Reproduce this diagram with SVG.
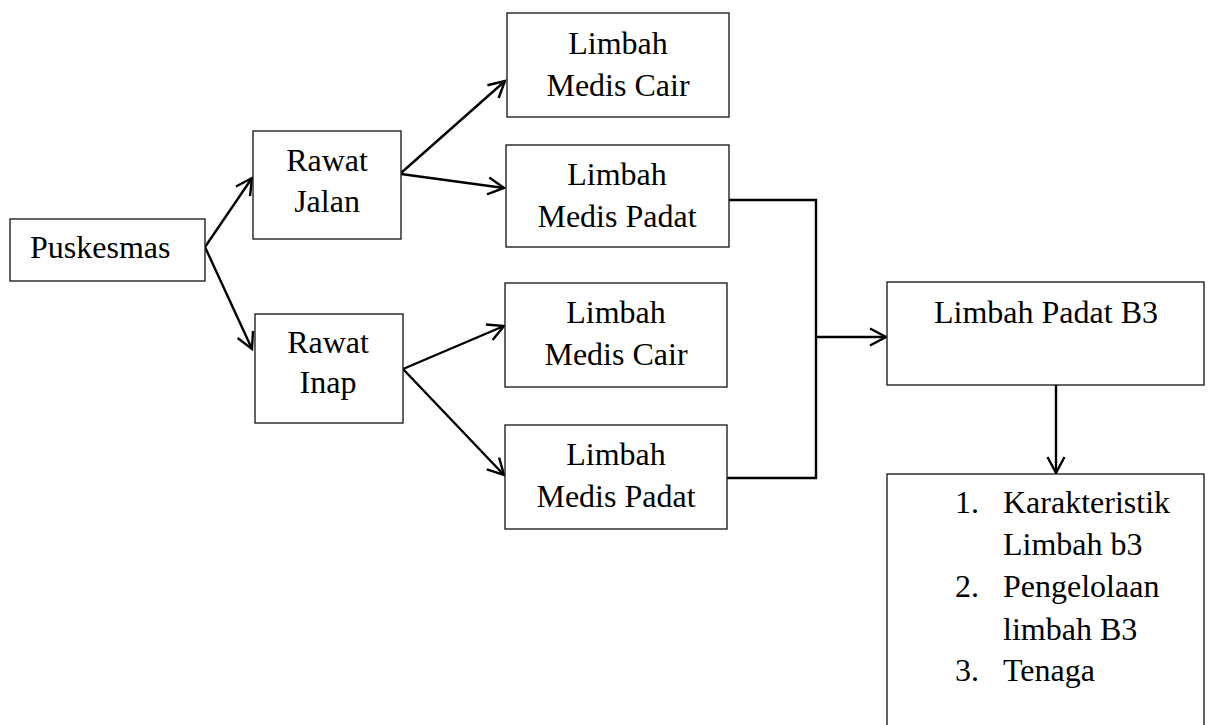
<svg xmlns="http://www.w3.org/2000/svg" width="1211" height="725" viewBox="0 0 1211 725">
<style>
.box{fill:#fff;stroke:#222;stroke-width:1.4}
.t{font-family:"Liberation Serif","Times New Roman",serif;font-size:32px;fill:#000}
.c{text-anchor:middle}
.ln{fill:none;stroke:#000;stroke-width:2.4}
</style>
<defs>
<marker id="ah" markerUnits="userSpaceOnUse" markerWidth="30" markerHeight="30" refX="0" refY="0" viewBox="-20 -15 30 30" orient="auto" overflow="visible">
<path d="M-16,-8.5 L0,0 L-16,8.5" fill="none" stroke="#000" stroke-width="2.4"/>
</marker>
</defs>
<rect width="1211" height="725" fill="#fff"/>
<g id="connectors">
<line class="ln" x1="205" y1="247" x2="252" y2="178" marker-end="url(#ah)"/>
<line class="ln" x1="205" y1="247" x2="252" y2="349" marker-end="url(#ah)"/>
<line class="ln" x1="401" y1="173" x2="505" y2="81" marker-end="url(#ah)"/>
<line class="ln" x1="401" y1="174" x2="504" y2="188" marker-end="url(#ah)"/>
<line class="ln" x1="403" y1="369" x2="504" y2="326" marker-end="url(#ah)"/>
<line class="ln" x1="403" y1="369" x2="504" y2="475" marker-end="url(#ah)"/>
<polyline class="ln" points="729,200 816,200 816,478 727,478"/>
<line class="ln" x1="816" y1="337" x2="886" y2="337" marker-end="url(#ah)"/>
<line class="ln" x1="1056" y1="385" x2="1056" y2="473" marker-end="url(#ah)"/>
</g>
<g id="puskesmas">
<rect class="box" x="10" y="219" width="195" height="62"/>
<text class="t" x="30" y="258">Puskesmas</text>
</g>
<g id="rawat-jalan">
<rect class="box" x="253" y="131" width="148" height="108"/>
<text class="t c" x="327" y="171">Rawat</text>
<text class="t c" x="327" y="212">Jalan</text>
</g>
<g id="rawat-inap">
<rect class="box" x="255" y="314" width="148" height="109"/>
<text class="t c" x="328" y="353">Rawat</text>
<text class="t c" x="328" y="393">Inap</text>
</g>
<g id="cair-1">
<rect class="box" x="507" y="13" width="222" height="104"/>
<text class="t c" x="618" y="54">Limbah</text>
<text class="t c" x="618" y="96">Medis Cair</text>
</g>
<g id="padat-1">
<rect class="box" x="506" y="145" width="223" height="102"/>
<text class="t c" x="617" y="185">Limbah</text>
<text class="t c" x="617" y="227">Medis Padat</text>
</g>
<g id="cair-2">
<rect class="box" x="505" y="283" width="222" height="104"/>
<text class="t c" x="616" y="323">Limbah</text>
<text class="t c" x="616" y="365">Medis Cair</text>
</g>
<g id="padat-2">
<rect class="box" x="505" y="425" width="222" height="104"/>
<text class="t c" x="616" y="465">Limbah</text>
<text class="t c" x="616" y="507">Medis Padat</text>
</g>
<g id="limbah-padat-b3">
<rect class="box" x="887" y="282" width="317" height="103"/>
<text class="t" x="934" y="323">Limbah Padat B3</text>
</g>
<g id="list">
<rect class="box" x="887" y="474" width="317" height="270"/>
<text class="t" x="955" y="513">1.</text>
<text class="t" x="1003" y="513">Karakteristik</text>
<text class="t" x="1003" y="555">Limbah b3</text>
<text class="t" x="955" y="597">2.</text>
<text class="t" x="1003" y="597">Pengelolaan</text>
<text class="t" x="1003" y="640">limbah B3</text>
<text class="t" x="955" y="681">3.</text>
<text class="t" x="1003" y="681">Tenaga</text>
</g>
</svg>
